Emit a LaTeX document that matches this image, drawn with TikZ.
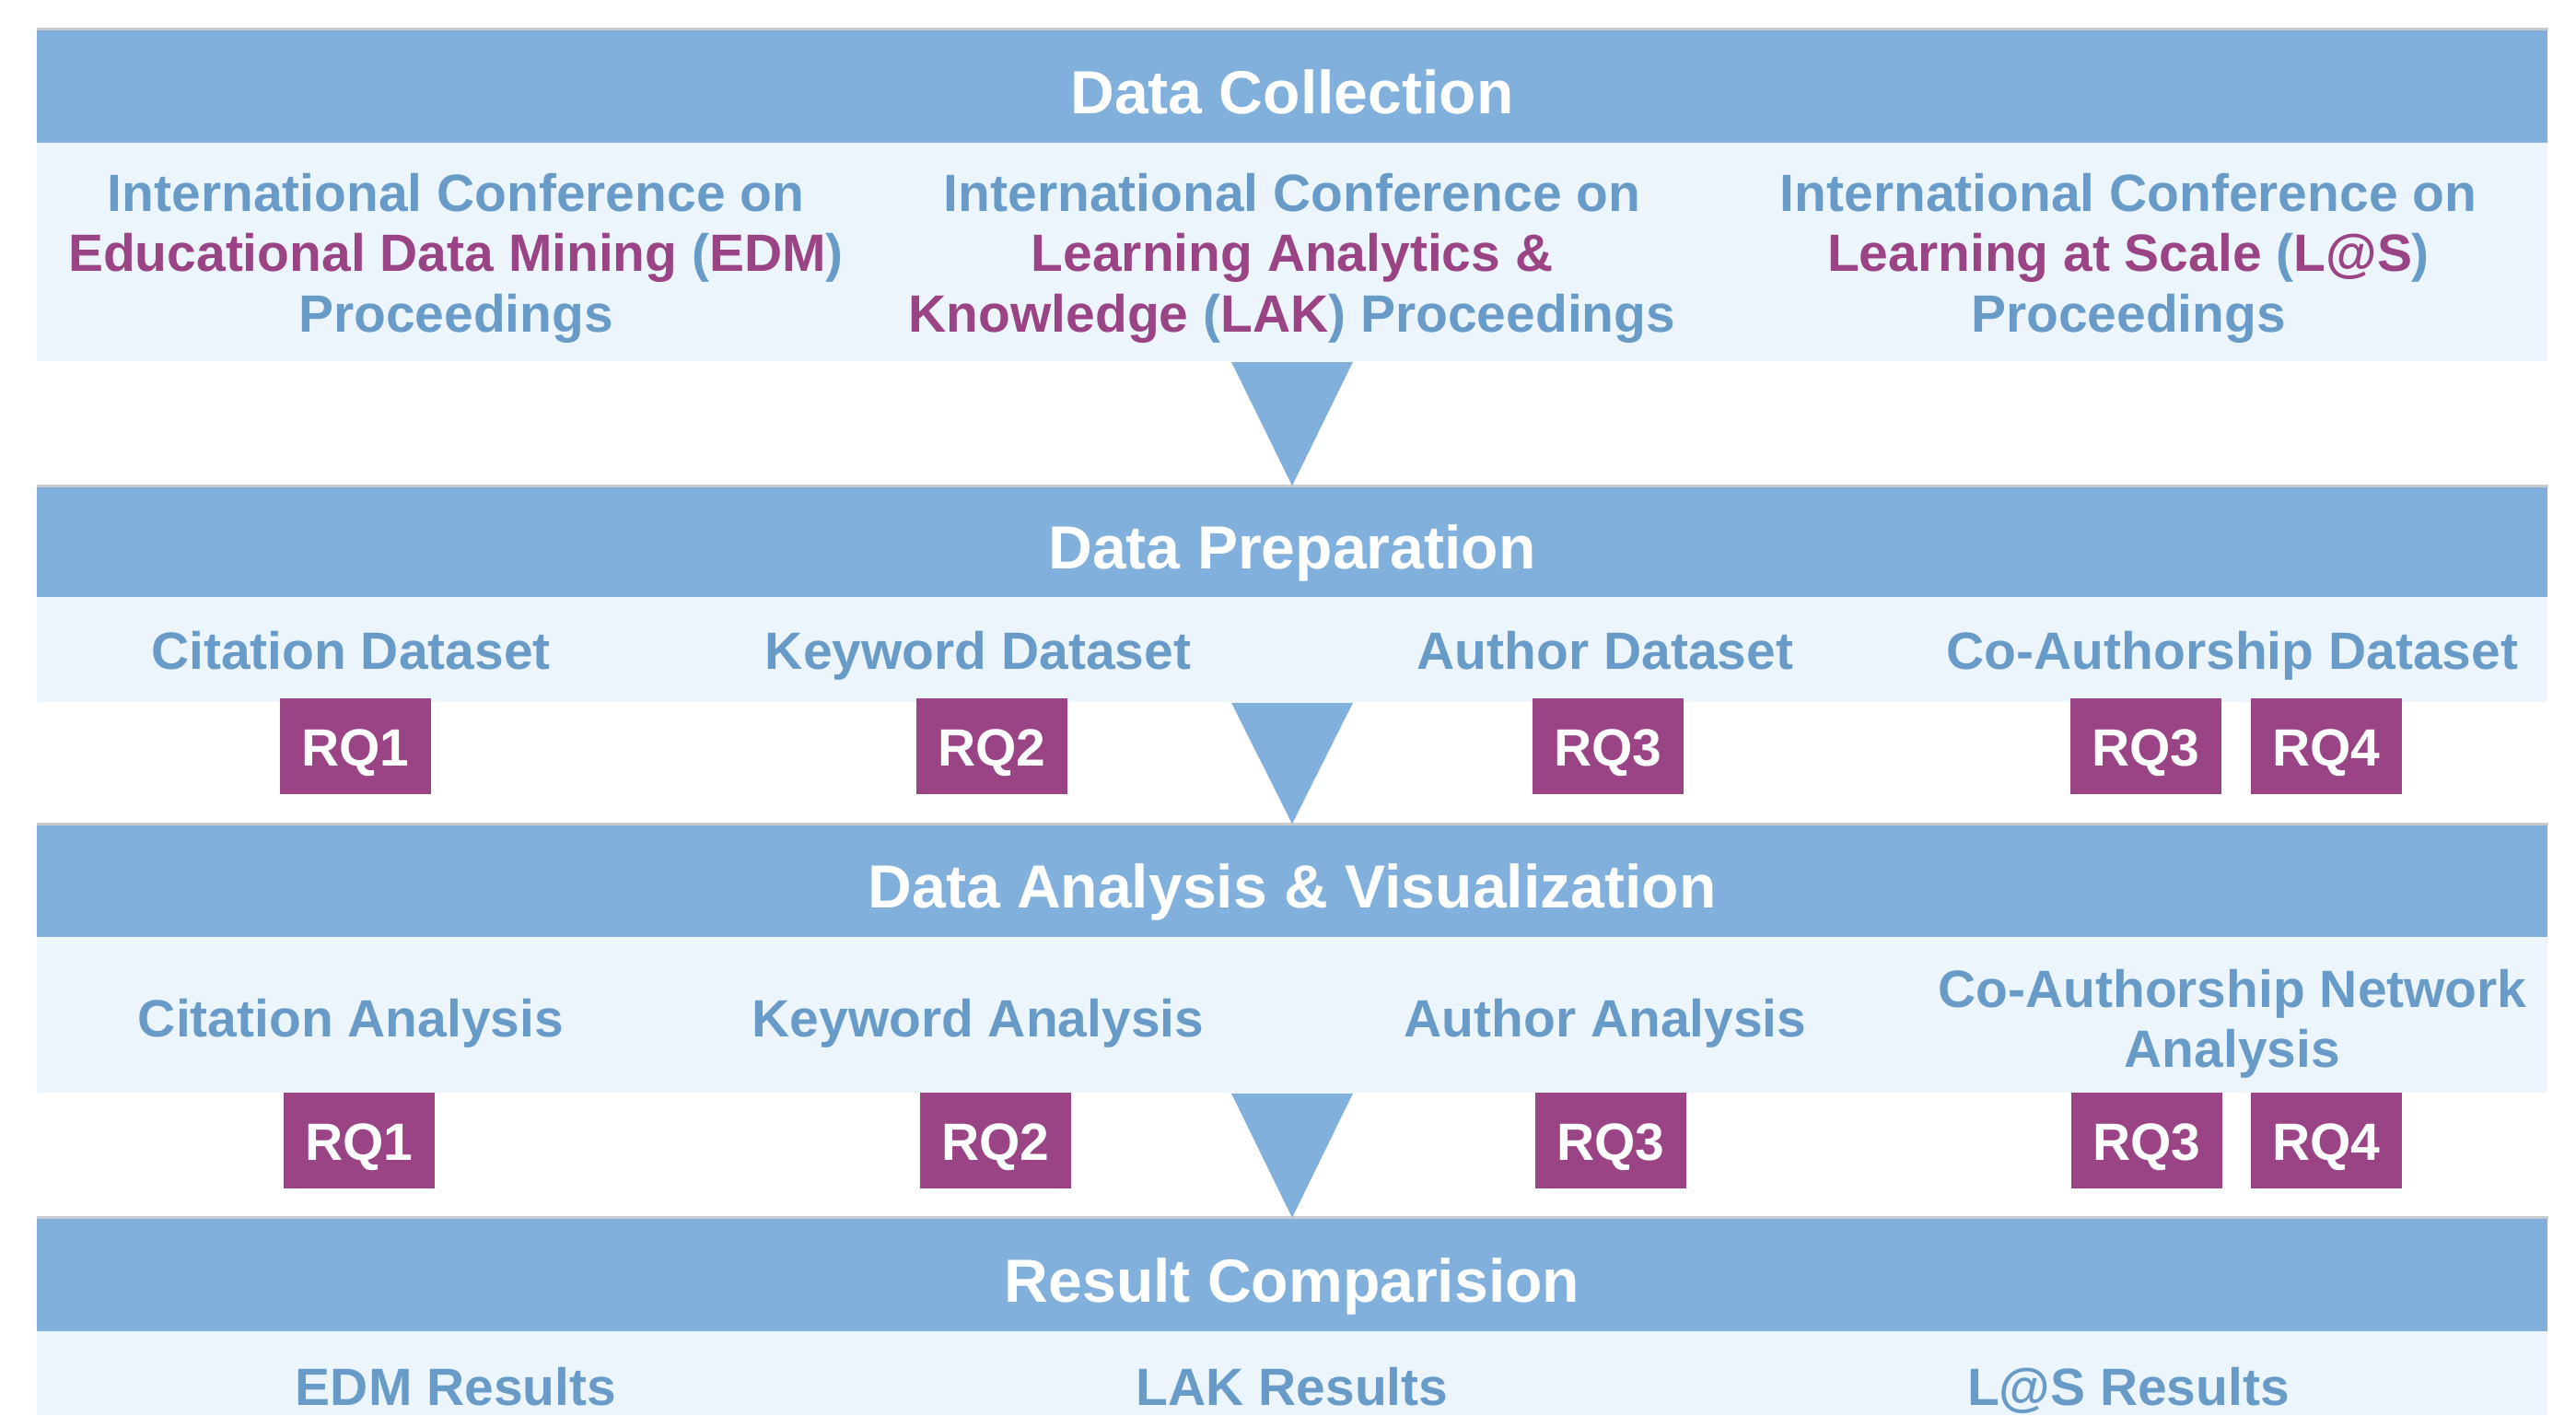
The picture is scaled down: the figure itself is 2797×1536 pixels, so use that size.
\documentclass[tikz,border=0pt]{standalone}
\usepackage{fontspec}
\setmainfont{Liberation Sans}
\usetikzlibrary{calc}

\definecolor{bandblue}{RGB}{128,176,219}
\definecolor{paleblue}{RGB}{237,245,252}
\definecolor{txtblue}{RGB}{104,155,199}
\definecolor{rqpurple}{RGB}{154,68,134}
\definecolor{edgegray}{RGB}{200,202,206}

\newcommand\headfont{\fontsize{18.8}{22}\selectfont\bfseries}
\newcommand\bodyfont{\fontsize{16.2}{18.6}\selectfont\bfseries}
\newcommand\pur[1]{\textcolor{rqpurple}{#1}}

\tikzset{
    head/.style={fill=bandblue, minimum width=27.24cm, minimum height=1.22cm,
        inner sep=0pt, text=white, font=\headfont, text height=16.9pt, text depth=0pt},
    body/.style={fill=paleblue, minimum width=27.24cm, inner sep=0pt},
    txt/.style={text=txtblue, font=\bodyfont, align=center, inner sep=0pt},
    oneline/.style={txt, text height=12pt, text depth=0pt},
    rqbox/.style={fill=rqpurple, minimum width=1.64cm, minimum height=1.04cm,
        inner sep=0pt, text=white, font=\bodyfont, text height=12pt, text depth=0pt},
    funnel/.style={fill=bandblue},
    topline/.style={draw=edgegray, line width=0.8pt}
}

\begin{document}
\begin{tikzpicture}[x=0.01cm,y=-0.01cm]
    \useasboundingbox (0,0) rectangle (2797,1536);

    % stage bands
    \node[head] (coll) at (1403,93.5) {Data Collection};
    \node[body, minimum height=2.37cm] (collbody) at (1403,273.5) {};
    \node[head, minimum height=1.20cm] (prep) at (1403,588) {Data Preparation};
    \node[body, minimum height=1.14cm] (prepbody) at (1403,705) {};
    \node[head] (ana) at (1403,956) {Data Analysis \& Visualization};
    \node[body, minimum height=1.69cm] (anabody) at (1403,1101.5) {};
    \node[head] (res) at (1403,1383.5) {Result Comparision};
    \node[body, minimum height=0.91cm] (resbody) at (1403,1490.5) {};
    \foreach \n in {coll,prep,ana,res}
        {\draw[topline] (\n.north west) -- (\n.north east);
        }

    % arrows between stages
    \fill[funnel] ($(collbody.south)+(-66,0)$) -- ($(collbody.south)+(66,0)$) -- (prep.north) -- cycle;
    \fill[funnel] ($(prepbody.south)+(-66,0)$) -- ($(prepbody.south)+(66,0)$) -- (ana.north) -- cycle;
    \fill[funnel] ($(anabody.south)+(-66,0)$) -- ($(anabody.south)+(66,0)$) -- (res.north) -- cycle;

    % sources
    \node[txt] (edm) at (495,280) {International Conference on\\
        \pur{Educational Data Mining} (\pur{EDM})\\ Proceedings};
    \node[txt] (lak) at (1403,280) {International Conference on\\
        \pur{Learning Analytics \&}\\ \pur{Knowledge} (\pur{LAK}) Proceedings};
    \node[txt] (las) at (2311,280) {International Conference on\\
        \pur{Learning at Scale} (\pur{L@S})\\ Proceedings};

    % datasets
    \node[oneline] (citdata) at (381,705) {Citation Dataset};
    \node[oneline] (keydata) at (1062,705) {Keyword Dataset};
    \node[oneline] (autdata) at (1743,705) {Author Dataset};
    \node[oneline] (coadata) at (2424,705) {Co-Authorship Dataset};
    \foreach \x/\t [count=\i] in {386/RQ1,1077/RQ2,1746/RQ3,2330/RQ3,2526/RQ4}
        {\node[rqbox] (prq\i) at (\x,810) {\t};
        }

    % analyses
    \node[oneline] (citana) at (381,1104) {Citation Analysis};
    \node[oneline] (keyana) at (1062,1104) {Keyword Analysis};
    \node[oneline] (autana) at (1743,1104) {Author Analysis};
    \node[txt] (coaana) at (2424,1111) {Co-Authorship Network\\ Analysis};
    \foreach \x/\t [count=\i] in {390/RQ1,1081/RQ2,1749/RQ3,2331/RQ3,2526/RQ4}
        {\node[rqbox] (arq\i) at (\x,1238) {\t};
        }

    % results
    \node[oneline] (edmres) at (495,1504) {EDM Results};
    \node[oneline] (lakres) at (1403,1504) {LAK Results};
    \node[oneline] (lasres) at (2311,1504) {L@S Results};
\end{tikzpicture}
\end{document}
